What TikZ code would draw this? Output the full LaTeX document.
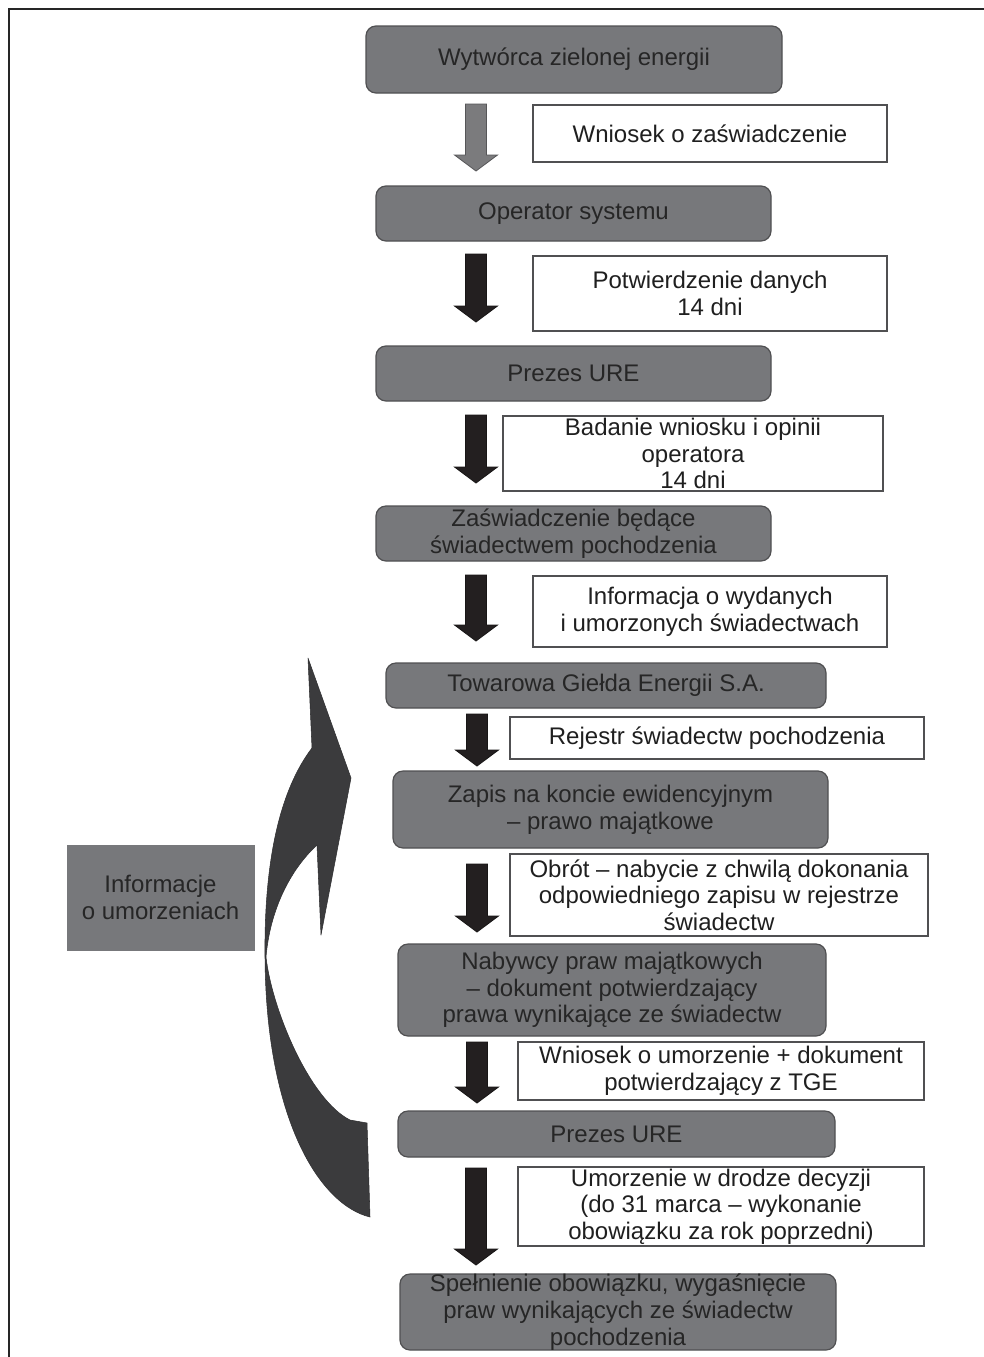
\documentclass[tikz,border=0pt]{standalone}
\usepackage{fontspec}
\setmainfont{Liberation Sans}
\definecolor{boxgray}{HTML}{77787B}
\definecolor{boxedge}{HTML}{505052}
\definecolor{txt}{HTML}{262626}
\definecolor{arrowdark}{HTML}{231F20}
\definecolor{curvedark}{HTML}{3B3B3D}
\definecolor{arrowgray}{HTML}{7B7B7D}
\newcommand\barrow[4]{%
  \filldraw[fill=#4, draw=#4!70!black, line width=0.6pt]
    (#1-10.5,#2) -- (#1+10.5,#2) -- (#1+10.5,#3-16) -- (#1+21.5,#3-16)
    -- (#1,#3) -- (#1-21.5,#3-16) -- (#1-10.5,#3-16) -- cycle;}
% style, name, x1, y1, x2, y2, text
\newcommand\bx[7]{%
  \node[#1, minimum width={(#5-#3)*0.75pt}, minimum height={(#6-#4)*0.75pt}]
    (#2) at ({(#3+#5)/2},{(#4+#6)/2}) {#7};}
\begin{document}
\begin{tikzpicture}[x=0.75pt,y=-0.75pt,
  basefont/.style={font=\fontsize{18}{20}\selectfont},
  gbox/.style={basefont, fill=boxgray, draw=boxedge, line width=0.9pt,
    rounded corners=7.5pt, inner sep=0pt, align=center, text=txt},
  wbox/.style={basefont, fill=white, draw=boxedge, line width=0.9pt,
    inner sep=0pt, align=center, text=black!88},
  ibox/.style={basefont, fill=boxgray, draw=boxgray, line width=0.6pt,
    inner sep=0pt, align=center, text=txt}]
\useasboundingbox (0,0) rectangle (984,1357);
\fill[white] (0,0) rectangle (984,1357);
\draw[line width=1.6pt, color=black!85] (9,1360) -- (9,9) -- (986,9);

% main chain
\bx{gbox}{n1}{366}{26}{782}{93}{Wytwórca zielonej energii}
\bx{wbox}{t1}{533}{105}{887}{162}{Wniosek o zaświadczenie}
\bx{gbox}{n2}{376}{186}{771}{241}{Operator systemu}
\bx{wbox}{t2}{533}{256}{887}{331}{Potwierdzenie danych\\14 dni}
\bx{gbox}{n3}{376}{346}{771}{401}{Prezes URE}
\bx{wbox}{t3}{503}{416}{883}{491}{Badanie wniosku i opinii\\operatora\\14 dni}
\bx{gbox}{n4}{376}{506}{771}{561}{Zaświadczenie będące\\świadectwem pochodzenia}
\bx{wbox}{t4}{533}{576}{887}{647}{Informacja o wydanych\\i umorzonych świadectwach}
\bx{gbox}{n5}{386}{663}{826}{708}{Towarowa Giełda Energii S.A.}
\bx{wbox}{t5}{510}{717}{924}{759}{Rejestr świadectw pochodzenia}
\bx{gbox}{n6}{393}{771}{828}{848}{Zapis na koncie ewidencyjnym\\– prawo majątkowe}
\bx{wbox}{t6}{510}{854}{928}{936}{Obrót – nabycie z chwilą dokonania\\odpowiedniego zapisu w rejestrze\\świadectw}
\bx{gbox}{n7}{398}{944}{826}{1036}{Nabywcy praw majątkowych\\– dokument potwierdzający\\prawa wynikające ze świadectw}
\bx{wbox}{t7}{518}{1042}{924}{1100}{Wniosek o umorzenie + dokument\\potwierdzający z TGE}
\bx{gbox}{n8}{398}{1111}{835}{1157}{Prezes URE}
\bx{wbox}{t8}{518}{1167}{924}{1246}{Umorzenie w drodze decyzji\\(do 31 marca – wykonanie\\obowiązku za rok poprzedni)}
\bx{gbox}{n9}{400}{1274}{836}{1350}{Spełnienie obowiązku, wygaśnięcie\\praw wynikających ze świadectw\\pochodzenia}
\bx{ibox}{info}{67}{845}{254}{950}{Informacje\\o umorzeniach}

% block arrows
\barrow{476}{104}{171}{arrowgray}
\barrow{476}{254}{322}{arrowdark}
\barrow{476}{415}{483}{arrowdark}
\barrow{476}{575}{641}{arrowdark}
\barrow{477}{714}{766}{arrowdark}
\barrow{477}{864}{932}{arrowdark}
\barrow{477}{1042}{1103}{arrowdark}
\barrow{476}{1168}{1265}{arrowdark}

% big curved arrow
\filldraw[fill=curvedark, draw=curvedark!80!black, line width=0.4pt, line join=round]
  (308,658) -- (351,778) -- (321,935) -- (317,845)
  .. controls (290,870) and (270,910) .. (266,957)
  .. controls (272,1010) and (310,1100) .. (350,1120)
  -- (367,1123) -- (370,1217)
  .. controls (320,1205) and (266,1120) .. (265,957)
  .. controls (264,860) and (280,790) .. (312,748) -- cycle;
\end{tikzpicture}
\end{document}
